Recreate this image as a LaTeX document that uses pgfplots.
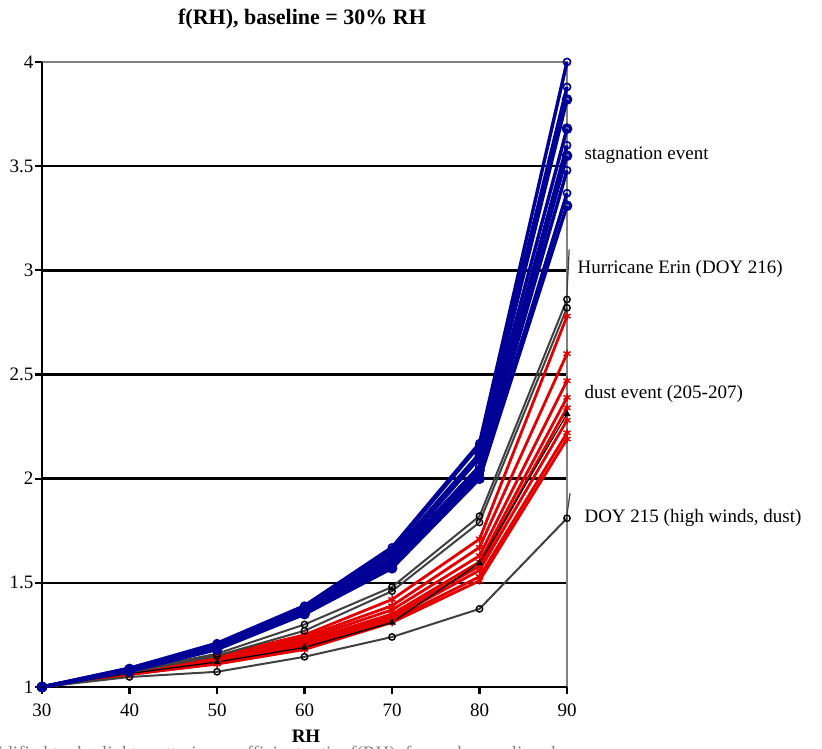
\documentclass[border=0pt]{standalone}
\usepackage{fontspec}
\setmainfont{Liberation Serif}
\usepackage{pgfplots}
\pgfplotsset{compat=1.18}

\definecolor{evblue}{RGB}{0,0,150}
\definecolor{evred}{RGB}{228,0,0}
\definecolor{evgray}{RGB}{64,64,64}
\definecolor{frame}{RGB}{128,128,128}

\pgfplotsset{
  stag/.style={color=evblue, line width=3.4pt, mark=o, mark size=3.6pt, mark options={line width=1.6pt}},
  dust/.style={color=evred, line width=2.8pt, mark=asterisk, mark size=4pt, mark options={line width=1.5pt}},
  erin/.style={color=evgray, line width=2pt, mark=o, mark size=3.2pt, mark options={black, line width=1.4pt}},
}

\begin{document}
\begin{tikzpicture}[x=1pt,y=1pt]
\useasboundingbox (0,0) rectangle (822,749);
\begin{axis}[
  at={(42pt,62pt)}, anchor=south west,
  scale only axis, width=525pt, height=625pt,
  xmin=30, xmax=90, ymin=1, ymax=4,
  xtick={30,40,...,90}, ytick={1,1.5,...,4},
  xtick pos=bottom, ytick pos=left,
  axis line style={draw=none},
  major tick style={draw=none},
  ymajorgrids, major grid style={black, line width=2.4pt},
  clip=false,
  tick label style={font=\fontsize{19}{19}\selectfont},
  /pgf/number format/assume math mode=true,
  xticklabel style={yshift=-13pt},
  yticklabel style={xshift=-5pt},
]
% axis frame: black left and bottom, grey top and right
\draw[frame, line width=2.4pt] (rel axis cs:0,1) -- (rel axis cs:1,1) -- (rel axis cs:1,0);
\draw[black, line width=2.6pt] (rel axis cs:0,1) -- (rel axis cs:0,0) -- (rel axis cs:1,0);
\pgfplotsinvokeforeach{30,40,50,60,70,80,90}{
  \draw[black, line width=2.2pt] (axis cs:#1,1) -- ++(0pt,-7pt);
}
\pgfplotsinvokeforeach{1,1.5,2,2.5,3,3.5,4}{
  \draw[black, line width=2.2pt] (axis cs:30,#1) -- ++(-7pt,0pt);
}

% dust event (205-207)
\addplot[dust] coordinates {(30,1) (40,1.08) (50,1.15) (60,1.25) (70,1.42) (80,1.71) (90,2.78)};
\addplot[dust] coordinates {(30,1) (40,1.075) (50,1.14) (60,1.24) (70,1.39) (80,1.67) (90,2.60)};
\addplot[dust] coordinates {(30,1) (40,1.07) (50,1.135) (60,1.23) (70,1.37) (80,1.63) (90,2.47)};
\addplot[dust] coordinates {(30,1) (40,1.07) (50,1.13) (60,1.22) (70,1.35) (80,1.60) (90,2.39)};
\addplot[dust] coordinates {(30,1) (40,1.065) (50,1.125) (60,1.21) (70,1.34) (80,1.58) (90,2.34)};
\addplot[dust] coordinates {(30,1) (40,1.065) (50,1.12) (60,1.20) (70,1.33) (80,1.56) (90,2.28)};
\addplot[dust] coordinates {(30,1) (40,1.06) (50,1.115) (60,1.19) (70,1.32) (80,1.53) (90,2.22)};
\addplot[dust] coordinates {(30,1) (40,1.06) (50,1.11) (60,1.18) (70,1.31) (80,1.51) (90,2.19)};
\addplot[black, line width=1.2pt, mark=triangle*, mark size=3pt] coordinates {(30,1) (40,1.065) (50,1.12) (60,1.19) (70,1.31) (80,1.595) (90,2.31)};

% Hurricane Erin and DOY 215
\addplot[erin] coordinates {(30,1) (40,1.075) (50,1.16) (60,1.30) (70,1.48) (80,1.82) (90,2.86)};
\addplot[erin] coordinates {(30,1) (40,1.07) (50,1.15) (60,1.27) (70,1.46) (80,1.79) (90,2.82)};
\addplot[erin] coordinates {(30,1) (40,1.048) (50,1.073) (60,1.145) (70,1.24) (80,1.375) (90,1.81)};

% stagnation event
\addplot[stag] coordinates {(30,1) (40,1.09) (50,1.21) (60,1.39) (70,1.67) (80,2.17) (90,4.00)};
\addplot[stag] coordinates {(30,1) (40,1.09) (50,1.20) (60,1.385) (70,1.66) (80,2.16) (90,3.88)};
\addplot[stag, mark options={fill=cyan}] coordinates {(30,1) (40,1.085) (50,1.20) (60,1.38) (70,1.64) (80,2.12) (90,3.82)};
\addplot[stag, mark options={fill=pink}] coordinates {(30,1) (40,1.085) (50,1.19) (60,1.37) (70,1.62) (80,2.10) (90,3.68)};
\addplot[stag] coordinates {(30,1) (40,1.08) (50,1.19) (60,1.365) (70,1.61) (80,2.06) (90,3.60)};
\addplot[stag, mark options={fill=orange}] coordinates {(30,1) (40,1.08) (50,1.19) (60,1.36) (70,1.60) (80,2.04) (90,3.55)};
\addplot[stag] coordinates {(30,1) (40,1.08) (50,1.185) (60,1.355) (70,1.59) (80,2.02) (90,3.48)};
\addplot[stag] coordinates {(30,1) (40,1.08) (50,1.185) (60,1.35) (70,1.58) (80,2.00) (90,3.37)};
\addplot[stag, mark options={fill=orange}] coordinates {(30,1) (40,1.075) (50,1.18) (60,1.35) (70,1.57) (80,2.00) (90,3.31)};

% leader lines
\draw[evgray, line width=1.2pt] (axis cs:89.9,2.81) -- (axis cs:90.25,3.10);
\draw[evgray, line width=1.2pt] (axis cs:89.9,1.80) -- (axis cs:90.35,1.93);
\end{axis}

\node[font=\bfseries\fontsize{22}{22}\selectfont] at (302,730) {f(RH), baseline = 30\% RH};
\node[font=\bfseries\fontsize{19}{19}\selectfont] at (306,13) {RH};

\node[anchor=west, font=\fontsize{19}{19}\selectfont] at (581,594) {stagnation event};
\node[anchor=west, font=\fontsize{19}{19}\selectfont] at (574,480) {Hurricane Erin (DOY 216)};
\node[anchor=west, font=\fontsize{19}{19}\selectfont] at (581,355) {dust event (205-207)};
\node[anchor=west, font=\fontsize{19}{19}\selectfont] at (581,231) {DOY 215 (high winds, dust)};

\node[anchor=north west, text=gray, font=\fontsize{19}{19}\selectfont, inner sep=0pt] at (-40,3) {Humidified to dry light scattering coefficient ratio, f(RH), for each sampling day};
\end{tikzpicture}
\end{document}
